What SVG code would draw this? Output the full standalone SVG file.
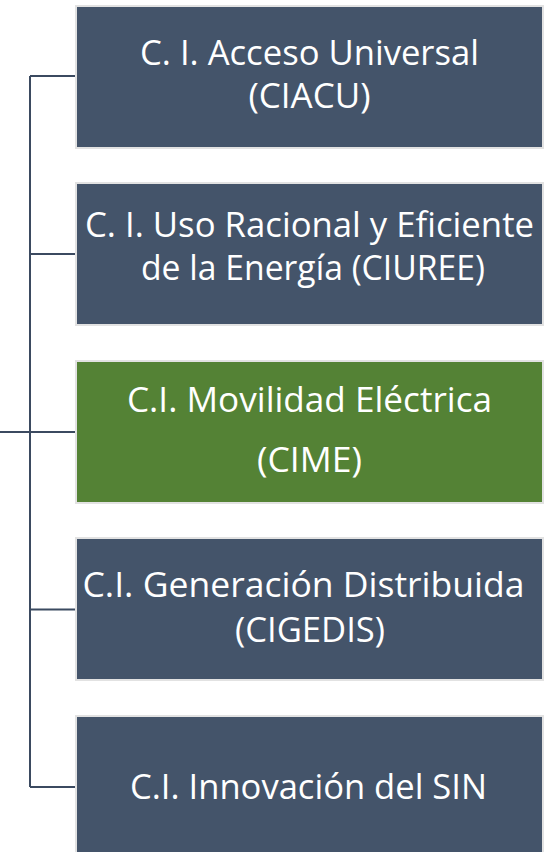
<svg xmlns="http://www.w3.org/2000/svg" width="548" height="852" viewBox="0 0 548 852">
<style>
.box{fill:#44546A;stroke:#E2E2E2;stroke-width:2}
.green{fill:#548235}
.t{font-family:"Open Sans","Noto Sans",sans-serif;font-size:34px;fill:#FFFFFF;text-anchor:middle}
.conn{stroke:#3B4A60;stroke-width:2;fill:none}
</style>
<rect width="548" height="852" fill="#FFFFFF"/>
<g id="connectors">
<path class="conn" d="M0 432H30M30 76V787M30 76H76M30 254H76M30 432H76M30 609.5H76M30 787H76"/>
</g>
<g id="n1">
<rect class="box" x="76" y="6" width="467" height="142"/>
<text class="t" x="309.5" y="65" textLength="339" lengthAdjust="spacingAndGlyphs">C. I. Acceso Universal</text>
<text class="t" x="309.5" y="108" textLength="122" lengthAdjust="spacingAndGlyphs">(CIACU)</text>
</g>
<g id="n2">
<rect class="box" x="76" y="183" width="467" height="142"/>
<text class="t" x="309.5" y="237" textLength="449" lengthAdjust="spacingAndGlyphs">C. I. Uso Racional y Eficiente</text>
<text class="t" x="313" y="280" textLength="344" lengthAdjust="spacingAndGlyphs">de la Energía (CIUREE)</text>
</g>
<g id="n3">
<rect class="box green" x="76" y="361" width="467" height="142"/>
<text class="t" x="309.5" y="412" textLength="365" lengthAdjust="spacingAndGlyphs">C.I. Movilidad Eléctrica</text>
<text class="t" x="309.5" y="472" textLength="105" lengthAdjust="spacingAndGlyphs">(CIME)</text>
</g>
<g id="n4">
<rect class="box" x="76" y="538" width="467" height="142"/>
<text class="t" x="303.5" y="597" textLength="442" lengthAdjust="spacingAndGlyphs">C.I. Generación Distribuida</text>
<text class="t" x="310" y="642" textLength="150" lengthAdjust="spacingAndGlyphs">(CIGEDIS)</text>
</g>
<g id="n5">
<rect class="box" x="76" y="716" width="467" height="142"/>
<text class="t" x="308.5" y="799" textLength="357" lengthAdjust="spacingAndGlyphs">C.I. Innovación del SIN</text>
</g>
</svg>
